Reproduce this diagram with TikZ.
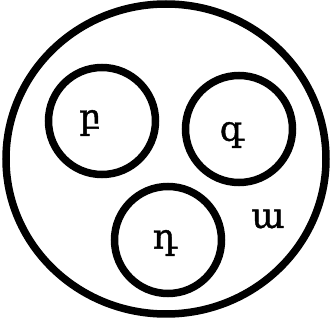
\documentclass[tikz,border=0pt]{standalone}
\usepackage{fontspec}
\setmainfont{DejaVu Serif}[BoldFont={DejaVu Serif}, BoldFeatures={FakeBold=1.2}]
\usetikzlibrary{shapes.geometric}
\definecolor{setInk}{HTML}{000000}
\tikzset{
  set outer/.style={ellipse, draw=setInk, line width=7.5pt, inner sep=0pt, minimum width=320pt, minimum height=310pt},
  set inner/.style={circle, draw=setInk, line width=7.5pt, inner sep=0pt, minimum size=107pt},
  set letter/.style={font=\fontsize{35}{40}\selectfont\bfseries, text=setInk, inner sep=0pt},
}
\begin{document}
\begin{tikzpicture}[x=1pt, y=-1pt]
  \useasboundingbox (0,0) rectangle (330,326);

  % The whole set and its three parts
  \node[set outer] (whole) at (166,159) {};
  \node[set inner] (partB) at (102,121) {};
  \node[set inner] (partG) at (239,129) {};
  \node[set inner] (partD) at (168,240) {};

  % Letters
  \node[set letter] (letB) at (90,123) {բ};
  \node[set letter] (letG) at (232,135) {գ};
  \node[set letter] (letD) at (165,243) {դ};
  \node[set letter] (letA) at (268,219) {ա};
\end{tikzpicture}
\end{document}
